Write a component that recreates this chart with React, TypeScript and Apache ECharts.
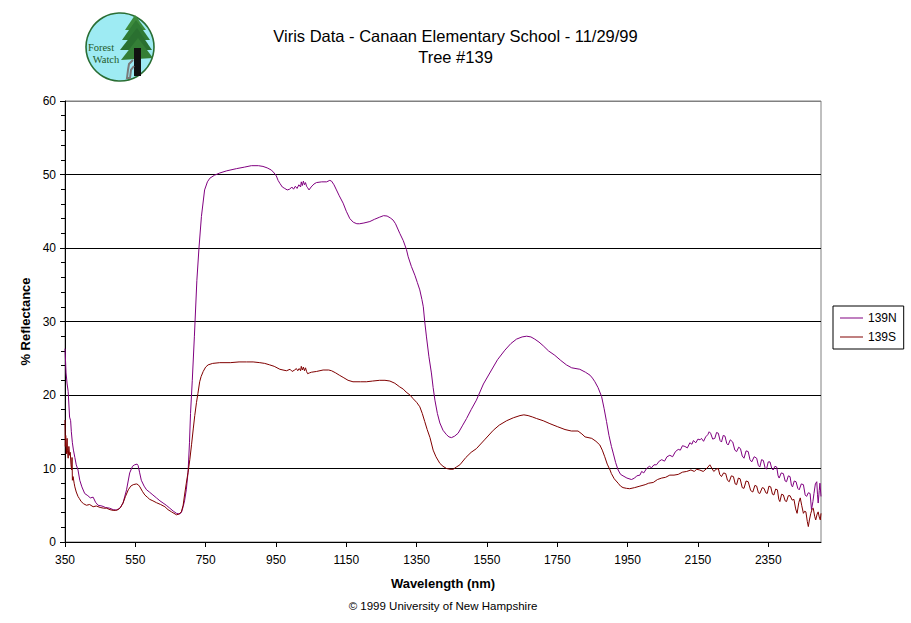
import React, { useEffect, useRef } from "react";
import * as echarts from "echarts";

const TITLE_LINES = ["Viris Data - Canaan Elementary School - 11/29/99", "Tree #139"];
const X_MIN = 350;
const X_MAX = 2500;
const X_TICK_STEP = 200;
const SERIES_NAMES = ["139N", "139S"];
const SERIES_COLORS = ["#800080", "#800000"];

// [wavelength nm, % reflectance]
const N_POINTS: number[][] = [
  [350, 26.3], [353, 23], [356, 21.5], [359, 20.5], [363, 17], [366, 16.5], [368, 15], [371, 13.5],
  [374, 12.5], [378, 11.5], [382, 10.5], [387, 9.8], [392, 8.4], [398, 7.5], [406, 6.6], [415, 6.3],
  [422, 6.0], [430, 6.1], [437, 5.4], [444, 5.0], [455, 4.9], [465, 4.7], [477, 4.6], [487, 4.4],
  [496, 4.35], [506, 4.6], [515, 5.3], [525, 7.1], [534, 9.4], [542, 10.3], [548, 10.5], [555, 10.6],
  [558, 10.4], [562, 9.5], [567, 8.4], [575, 7.6], [582, 7.1], [590, 6.8], [600, 6.4], [610, 6.0],
  [620, 5.6], [629, 5.3], [638, 5.0], [648, 4.6], [658, 4.2], [667, 3.9], [675, 3.8], [681, 4.0],
  [686, 4.8], [690, 5.6], [695, 7.1], [700, 9.5], [704, 13.5], [707, 17.5], [712, 22], [718, 28],
  [725, 35.6], [731, 40], [738, 44.3], [747, 47.9], [755, 49.0], [762, 49.5], [775, 49.9], [790, 50.2],
  [810, 50.5], [838, 50.8], [860, 51.0], [880, 51.2], [900, 51.2], [913, 51.1], [925, 50.9], [937, 50.6],
  [945, 50.2], [951, 49.8], [956, 49.2], [961, 48.8], [968, 48.3], [975, 48.1], [982, 47.9], [989, 48.0],
  [995, 48.3], [1000, 48.0], [1005, 48.4], [1010, 48.1], [1015, 48.6], [1020, 48.3], [1022, 49.0],
  [1025, 48.5], [1028, 49.1], [1031, 48.6], [1034, 48.9], [1037, 48.4], [1040, 48.2], [1044, 47.9],
  [1050, 48.3], [1058, 48.7], [1065, 48.9], [1080, 49.0], [1094, 49.0], [1103, 49.2], [1108, 49.1],
  [1115, 48.6], [1122, 47.9], [1130, 47.1], [1141, 46.1], [1150, 45.0], [1160, 44.0], [1170, 43.5],
  [1180, 43.3], [1188, 43.3], [1200, 43.4], [1217, 43.6], [1230, 43.9], [1245, 44.2], [1256, 44.4],
  [1266, 44.35], [1275, 44.1], [1283, 43.8], [1290, 43.3], [1302, 42.0], [1312, 41.0], [1321, 39.8],
  [1326, 38.8], [1335, 37.5], [1345, 36.3], [1352, 35.3], [1359, 34.3], [1365, 33.0], [1369, 32.0],
  [1373, 30.0], [1378, 27.9], [1385, 25.2], [1392, 23.0], [1397, 21.0], [1402, 19.3], [1409, 17.5],
  [1416, 16.2], [1425, 15.2], [1435, 14.6], [1442, 14.3], [1449, 14.2], [1458, 14.4], [1468, 14.8],
  [1480, 15.8], [1492, 16.8], [1505, 18.0], [1520, 19.3], [1540, 21.5], [1563, 23.4], [1580, 24.8],
  [1601, 26.1], [1618, 27.0], [1634, 27.6], [1650, 27.9], [1663, 28.0], [1675, 27.9], [1686, 27.6],
  [1698, 27.2], [1710, 26.7], [1725, 26.0], [1743, 25.4], [1760, 24.7], [1776, 24.1], [1791, 23.7],
  [1814, 23.5], [1830, 23.1], [1843, 22.7], [1850, 22.3], [1857, 21.8], [1866, 21.0], [1876, 19.8],
  [1883, 18.2], [1890, 16.4], [1897, 14.5], [1904, 13.0], [1909, 12.1], [1916, 10.8], [1923, 9.8],
  [1930, 9.2], [1937, 9.0], [1948, 8.7], [1961, 8.5], [1970, 8.7], [1976, 9.0], [1985, 9.1], [1990, 9.6],
  [1996, 9.4], [2004, 10.0], [2012, 10.3], [2018, 10.1], [2025, 10.5], [2032, 10.5], [2040, 11.0],
  [2047, 11.2], [2055, 11.0], [2062, 11.6], [2070, 11.8], [2078, 11.6], [2086, 12.3], [2094, 12.6],
  [2100, 12.5], [2106, 13.1], [2113, 13.0], [2120, 12.8], [2127, 13.5], [2133, 13.3], [2137, 13.8],
  [2144, 13.5], [2150, 14.0], [2156, 13.9], [2160, 14.1], [2166, 13.7], [2172, 14.3], [2178, 14.6],
  [2182, 15.0], [2186, 14.8], [2192, 14.0], [2198, 14.1], [2203, 14.9], [2208, 14.8], [2213, 13.8],
  [2217, 13.6], [2222, 14.5], [2227, 14.4], [2232, 13.4], [2236, 13.2], [2242, 13.9], [2249, 13.6],
  [2255, 12.5], [2260, 12.3], [2266, 12.9], [2271, 12.7], [2276, 11.7], [2281, 11.4], [2287, 12.4],
  [2293, 12.3], [2298, 11.2], [2303, 10.9], [2310, 11.6], [2317, 11.4], [2322, 10.4], [2326, 10.2],
  [2331, 11.2], [2336, 11.1], [2341, 10.1], [2345, 9.9], [2350, 10.9], [2355, 10.9], [2360, 10.0],
  [2364, 9.8], [2369, 10.3], [2374, 10.2], [2378, 9.0], [2381, 8.7], [2387, 9.4], [2393, 9.3],
  [2398, 8.3], [2402, 8.2], [2407, 9.0], [2412, 8.9], [2416, 7.7], [2419, 7.5], [2424, 8.3],
  [2429, 8.2], [2434, 7.3], [2438, 7.1], [2444, 7.9], [2450, 7.8], [2455, 6.4], [2459, 6.2],
  [2464, 6.7], [2469, 6.6], [2473, 4.4], [2477, 5.5], [2480, 6.6], [2484, 7.9], [2488, 8.2],
  [2490, 6.5], [2492, 5.3], [2495, 7.0], [2497, 8.0], [2500, 6.2],
];

const S_POINTS: number[][] = [
  [350, 16.6], [351, 13.0], [352, 14.5], [354, 12.0], [356, 14.1], [357, 12.5], [359, 11.4], [361, 13.0],
  [363, 11.8], [365, 12.2], [367, 10.5], [369, 9.8], [370, 11.5], [371, 8.4], [373, 8.9], [376, 8.0],
  [378, 7.5], [382, 6.8], [387, 6.2], [391, 5.9], [396, 5.5], [403, 5.2], [411, 5.0], [420, 5.1],
  [430, 4.8], [439, 4.9], [450, 4.7], [460, 4.6], [468, 4.6], [478, 4.4], [487, 4.3], [494, 4.3],
  [501, 4.4], [508, 4.7], [515, 5.3], [522, 6.2], [530, 7.1], [537, 7.6], [544, 7.8], [553, 7.9],
  [558, 7.8], [563, 7.5], [570, 6.9], [577, 6.4], [584, 6.1], [591, 5.8], [600, 5.6], [610, 5.35],
  [622, 5.1], [634, 4.8], [643, 4.4], [653, 4.1], [660, 3.9], [667, 3.7], [674, 3.8], [681, 4.1],
  [686, 5.0], [690, 6.4], [695, 8.0], [700, 9.5], [705, 11.2], [710, 13.3], [715, 15.5], [719, 17.2],
  [724, 19.0], [728, 20.2], [733, 21.8], [737, 22.5], [743, 23.2], [750, 23.8], [757, 24.1], [770, 24.3],
  [790, 24.4], [820, 24.4], [845, 24.5], [866, 24.5], [885, 24.5], [904, 24.4], [918, 24.3], [932, 24.1],
  [945, 23.9], [961, 23.5], [970, 23.4], [980, 23.3], [990, 23.5], [996, 23.2], [1003, 23.4], [1008, 23.6],
  [1012, 23.3], [1016, 23.6], [1020, 23.3], [1022, 23.9], [1025, 23.4], [1028, 23.8], [1031, 23.3],
  [1034, 23.7], [1037, 23.2], [1040, 22.9], [1045, 23.0], [1051, 23.1], [1065, 23.2], [1084, 23.4],
  [1100, 23.4], [1108, 23.3], [1120, 23.0], [1130, 22.7], [1141, 22.4], [1155, 22.0], [1169, 21.8],
  [1190, 21.8], [1207, 21.8], [1225, 21.9], [1245, 22.0], [1260, 22.0], [1274, 21.9], [1288, 21.6],
  [1302, 21.1], [1312, 20.8], [1320, 20.4], [1331, 20.0], [1340, 19.5], [1350, 19.0], [1359, 18.4],
  [1366, 17.5], [1373, 16.4], [1380, 15.3], [1388, 14.2], [1397, 12.5], [1405, 11.6], [1416, 10.7],
  [1425, 10.3], [1435, 10.0], [1445, 9.9], [1454, 9.9], [1463, 10.2], [1473, 10.5], [1490, 11.5],
  [1505, 12.2], [1520, 12.7], [1545, 14.0], [1568, 15.2], [1585, 15.9], [1606, 16.5], [1625, 16.9],
  [1644, 17.2], [1655, 17.3], [1667, 17.2], [1680, 17.0], [1691, 16.8], [1710, 16.5], [1729, 16.1],
  [1750, 15.7], [1772, 15.3], [1790, 15.1], [1809, 15.1], [1820, 14.7], [1829, 14.3], [1848, 14.1],
  [1860, 13.7], [1871, 13.2], [1878, 12.5], [1885, 11.6], [1892, 10.6], [1900, 9.8], [1904, 9.3],
  [1912, 8.6], [1923, 8.0], [1930, 7.6], [1937, 7.4], [1947, 7.3], [1956, 7.25], [1970, 7.4],
  [1985, 7.6], [2000, 7.8], [2010, 8.0], [2023, 8.1], [2035, 8.5], [2047, 8.7], [2058, 8.8], [2070, 9.1],
  [2082, 9.1], [2094, 9.2], [2106, 9.5], [2118, 9.6], [2130, 9.8], [2140, 9.6], [2146, 9.9], [2155, 9.8],
  [2165, 9.6], [2175, 10.0], [2184, 10.5], [2190, 10.0], [2195, 9.6], [2202, 9.9], [2208, 10.0],
  [2212, 9.2], [2217, 8.9], [2223, 9.4], [2229, 9.3], [2234, 8.4], [2239, 8.2], [2245, 9.0], [2251, 8.9],
  [2256, 7.9], [2260, 7.8], [2265, 8.7], [2270, 8.6], [2276, 7.4], [2281, 7.3], [2287, 8.3], [2293, 8.2],
  [2300, 7.0], [2306, 6.8], [2312, 7.7], [2317, 7.6], [2322, 6.7], [2326, 6.6], [2333, 7.4], [2338, 7.3],
  [2343, 6.7], [2347, 6.6], [2352, 7.6], [2357, 7.5], [2362, 6.5], [2366, 6.4], [2371, 7.2], [2376, 7.1],
  [2380, 5.8], [2383, 5.5], [2388, 6.5], [2393, 6.4], [2398, 5.6], [2402, 5.5], [2407, 6.3], [2412, 6.3],
  [2418, 5.7], [2423, 5.8], [2428, 4.5], [2432, 3.9], [2437, 5.4], [2441, 6.0], [2445, 5.0], [2450, 3.9],
  [2454, 4.2], [2457, 4.1], [2461, 2.8], [2464, 2.1], [2467, 3.0], [2471, 3.9], [2475, 4.5], [2478, 4.6],
  [2482, 3.5], [2485, 3.0], [2489, 3.8], [2492, 4.1], [2495, 3.4], [2498, 3.0], [2500, 3.9],
];

const FONT = "'Liberation Sans', Arial, sans-serif";
const SERIF = "'Liberation Serif', serif";

export default function App() {
  const ref = useRef<HTMLDivElement>(null);

  useEffect(() => {
    document.body.style.margin = "0";
    if (!ref.current) return;
    const chart = echarts.init(ref.current, undefined, { renderer: "svg" });
    const shift = (pts: number[][]) => pts.map((p) => [p[0] - X_MIN, p[1]]);

    const logoGreen = "#2a6e34";
    const option: any = {
      animation: false,
      backgroundColor: "#ffffff",
      textStyle: { fontFamily: FONT },
      title: {
        text: TITLE_LINES.join("\n"),
        left: "center",
        top: 20,
        textStyle: { fontFamily: FONT, fontSize: 16.5, fontWeight: "normal", color: "#000", lineHeight: 21 },
      },
      legend: {
        orient: "vertical",
        left: 833,
        top: 306,
        padding: [6, 7, 6, 7],
        itemGap: 7,
        itemWidth: 23,
        itemHeight: 12,
        icon: "rect",
        borderColor: "#000",
        borderWidth: 1,
        backgroundColor: "#fff",
        textStyle: { fontFamily: FONT, fontSize: 12, color: "#000" },
        data: SERIES_NAMES.map((n, i) => ({
          name: n,
          icon: "path://M0,0 L23,0 L23,1 L0,1 Z",
          itemStyle: { color: SERIES_COLORS[i] },
        })),
      },
      grid: {
        left: 65,
        top: 101,
        right: 90,
        bottom: 81,
        show: true,
        borderColor: "#808080",
        borderWidth: 1,
        backgroundColor: "#fff",
      },
      xAxis: {
        type: "value",
        min: 0,
        max: X_MAX - X_MIN,
        interval: X_TICK_STEP,
        name: "Wavelength (nm)",
        nameLocation: "middle",
        nameGap: 35,
        nameTextStyle: { fontFamily: FONT, fontSize: 13, fontWeight: "bold", color: "#000" },
        axisLine: { lineStyle: { color: "#000", width: 1 } },
        axisTick: { show: true, length: 5, lineStyle: { color: "#000" } },
        axisLabel: {
          fontFamily: FONT,
          fontSize: 12,
          color: "#000",
          margin: 12,
          showMaxLabel: false,
          formatter: (v: number) => (v >= X_MAX - X_MIN ? "" : String(v + X_MIN)),
        },
        splitLine: { show: false },
      },
      yAxis: {
        type: "value",
        min: 0,
        max: 60,
        interval: 10,
        name: "% Reflectance",
        nameLocation: "middle",
        nameGap: 31,
        nameTextStyle: { fontFamily: FONT, fontSize: 13, fontWeight: "bold", color: "#000" },
        axisLine: { show: true, lineStyle: { color: "#000", width: 1 } },
        axisTick: { show: true, length: 5, lineStyle: { color: "#000" } },
        minorTick: { show: true, splitNumber: 5, length: 4, lineStyle: { color: "#000" } },
        axisLabel: { fontFamily: FONT, fontSize: 12, color: "#000", margin: 9 },
        splitLine: {
          show: true,
          lineStyle: { color: ["#000", "#000", "#000", "#000", "#000", "#000", "#808080"], width: 1 },
        },
      },
      series: [
        {
          name: SERIES_NAMES[0],
          type: "line",
          data: shift(N_POINTS),
          symbol: "none",
          showSymbol: false,
          lineStyle: { color: SERIES_COLORS[0], width: 1 },
          itemStyle: { color: SERIES_COLORS[0] },
        },
        {
          name: SERIES_NAMES[1],
          type: "line",
          data: shift(S_POINTS),
          symbol: "none",
          showSymbol: false,
          lineStyle: { color: SERIES_COLORS[1], width: 1 },
          itemStyle: { color: SERIES_COLORS[1] },
        },
      ],
      graphic: [
        {
          type: "text",
          x: 443,
          y: 606,
          style: {
            text: "\u00A9 1999 University of New Hampshire",
            fontFamily: FONT,
            fontSize: 11.5,
            fill: "#000",
            align: "center",
            verticalAlign: "middle",
          },
        },
        {
          type: "group",
          children: [
            { type: "circle", shape: { cx: 120, cy: 47, r: 34 }, style: { fill: "#9eebf3", stroke: logoGreen, lineWidth: 1.6 } },
            { type: "polygon", shape: { points: [[135, 15], [125, 30], [146, 30]] }, style: { fill: "#3d8b3d" } },
            { type: "polygon", shape: { points: [[136, 20], [122, 40], [150, 40]] }, style: { fill: "#2f7a34" } },
            { type: "polygon", shape: { points: [[137, 28], [120, 50], [152, 50]] }, style: { fill: "#2a7030" } },
            { type: "polygon", shape: { points: [[138, 38], [121, 60], [153, 58]] }, style: { fill: "#347e36" } },
            { type: "rect", shape: { x: 134, y: 48, width: 7, height: 28 }, style: { fill: "#111" } },
            {
              type: "polyline",
              shape: { points: [[133, 60], [129, 64], [128, 70], [127, 78], [130, 78], [131, 70], [134, 66]] },
              style: { stroke: "#7a7a7a", lineWidth: 2, fill: "none" },
            },
            {
              type: "text",
              x: 101,
              y: 47.5,
              style: { text: "Forest", fontFamily: SERIF, fontSize: 10.5, fill: "#1f5a2a", align: "center", verticalAlign: "middle" },
            },
            {
              type: "text",
              x: 106,
              y: 59.5,
              style: { text: "Watch", fontFamily: SERIF, fontSize: 10.5, fill: "#1f5a2a", align: "center", verticalAlign: "middle" },
            },
          ],
        },
      ],
    };
    chart.setOption(option);
    return () => chart.dispose();
  }, []);

  return <div ref={ref} style={{ width: 911, height: 623 }} />;
}
